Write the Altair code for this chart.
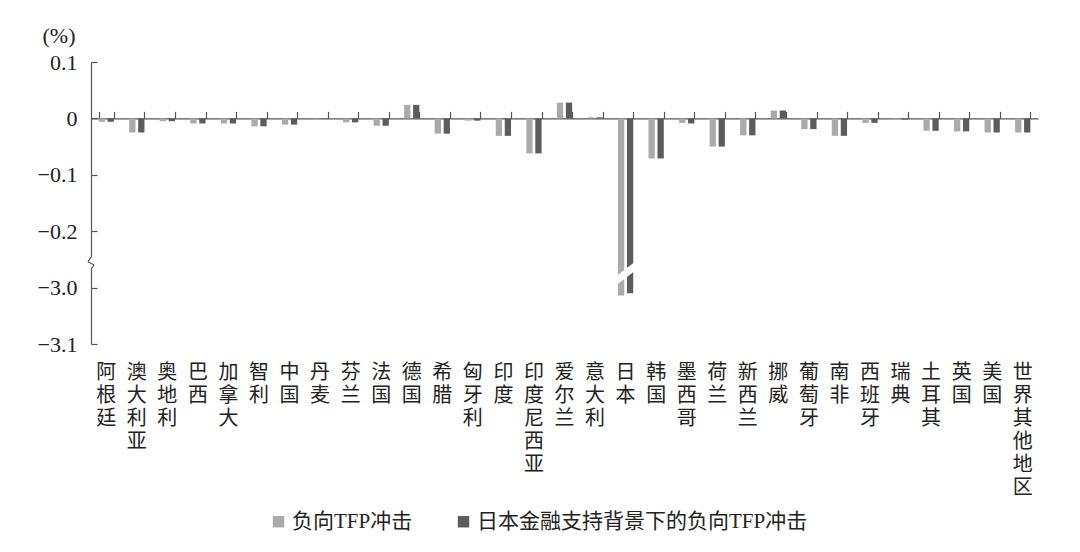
import altair as alt
import pandas as pd

# ---------------- data ----------------
countries = ["阿根廷", "澳大利亚", "奥地利", "巴西", "加拿大", "智利", "中国", "丹麦", "芬兰", "法国",
             "德国", "希腊", "匈牙利", "印度", "印度尼西亚", "爱尔兰", "意大利", "日本", "韩国", "墨西哥",
             "荷兰", "新西兰", "挪威", "葡萄牙", "南非", "西班牙", "瑞典", "土耳其", "英国", "美国",
             "世界其他地区"]
series_names = ["负向TFP冲击", "日本金融支持背景下的负向TFP冲击"]
tfp_shock = [-0.006, -0.025, -0.005, -0.009, -0.009, -0.014, -0.011, -0.001, -0.007, -0.013,
             0.024, -0.027, -0.004, -0.031, -0.062, 0.028, 0.002, -3.014, -0.071, -0.008,
             -0.050, -0.030, 0.014, -0.019, -0.031, -0.008, -0.002, -0.022, -0.023, -0.025,
             -0.025]
tfp_shock_jp = [-0.006, -0.025, -0.005, -0.009, -0.009, -0.014, -0.011, -0.001, -0.007, -0.013,
                0.024, -0.027, -0.004, -0.031, -0.062, 0.028, 0.002, -3.010, -0.071, -0.009,
                -0.050, -0.030, 0.014, -0.019, -0.031, -0.008, -0.002, -0.022, -0.023, -0.025,
                -0.025]
y_tick_values = [0.1, 0.0, -0.1, -0.2, -3.0, -3.1]

# broken axis: values below the break are shifted up by this amount
BREAK_SHIFT = 2.7
BREAK_LIMIT = -1.0


def to_axis(v):
    return v + BREAK_SHIFT if v < BREAK_LIMIT else v


rows = []
for i, c in enumerate(countries):
    for s, vals in zip(series_names, [tfp_shock, tfp_shock_jp]):
        rows.append({"country": c, "series": s, "value": vals[i], "t": to_axis(vals[i])})
df = pd.DataFrame(rows)

yticks_t = [round(to_axis(v), 3) for v in y_tick_values]

# white diagonal cut across the Japan bars (break marker)
cut_df = pd.DataFrame({"country": ["日本"], "t": [-0.275]})
CUT_SHAPE = "M-1,0.40 L1,-1.15 L1,-0.40 L-1,1.15 Z"

# break marker on the y axis
brk_y1 = [-0.246, -0.246, -0.254, -0.260]
brk_y2 = [-0.268, -0.254, -0.260, -0.268]
brk_x1 = [0, 0, -3, 3]
brk_x2 = [0, -3, 3, 0]
brk_col = ["white", "#555555", "#555555", "#555555"]
brk_w = [4, 1.2, 1.2, 1.2]

# ---------------- layout ----------------
W, H = 947, 282
ydom = [-0.4, 0.1]
zero_off = H * ydom[1] / (ydom[1] - ydom[0])

LATIN = "Liberation Serif, Noto Sans CJK SC"
CJK = "Noto Sans CJK SC"
AX = "#555555"
TXT = "#222222"

xscale = alt.Scale(domain=countries, paddingInner=0.5, paddingOuter=0.25)
yscale = alt.Scale(domain=ydom, nice=False, zero=False)
xoscale = alt.Scale(domain=series_names, paddingInner=0.3)

y_label_expr = ("datum.value == 0 ? '0' : (datum.value < -0.25 ? format(datum.value - "
                + str(BREAK_SHIFT) + ", '.1f') : format(datum.value, '.1f'))")

bars = alt.Chart(df).mark_bar().encode(
    x=alt.X("country:N", sort=countries, scale=xscale,
            axis=alt.Axis(orient="bottom", domain=False, ticks=False, grid=False, title=None,
                          labelExpr="split(datum.label, '')", labelAngle=0,
                          labelAlign="center", labelBaseline="top", labelPadding=18,
                          labelFont=CJK, labelFontSize=20, labelLineHeight=23,
                          labelColor=TXT, labelOverlap=False, labelBound=False)),
    xOffset=alt.XOffset("series:N", sort=series_names, scale=xoscale),
    y=alt.Y("t:Q", scale=yscale,
            axis=alt.Axis(orient="left", values=yticks_t, labelExpr=y_label_expr,
                          domain=False, ticks=False, grid=False, labelPadding=14,
                          labelFont="Liberation Serif", labelFontSize=22, labelColor=TXT,
                          title="(%)", titleAngle=0, titleX=-49, titleY=-20,
                          titleAlign="left", titleBaseline="alphabetic",
                          titleFont="Liberation Serif", titleFontSize=22,
                          titleFontWeight="normal", titleColor=TXT)),
    color=alt.Color("series:N", sort=series_names,
                    scale=alt.Scale(domain=series_names, range=["#aaaaaa", "#5c5c5c"]),
                    legend=alt.Legend(orient="none", legendX=177, legendY=449,
                                      direction="horizontal", title=None,
                                      symbolType="square", symbolSize=130,
                                      symbolStrokeWidth=0, labelFont=LATIN,
                                      labelFontSize=21, labelColor=TXT,
                                      columnPadding=40, labelOffset=3,
                                      labelLimit=700)),
)

axes_layer = alt.Chart(df).mark_bar(opacity=0).encode(
    x=alt.X("country:N", sort=countries, scale=xscale,
            axis=alt.Axis(orient="top", offset=-zero_off, labels=False, domain=True,
                          ticks=True, tickBand="extent", tickSize=7, grid=False,
                          title=None, domainColor=AX, tickColor=AX,
                          domainWidth=1.2, tickWidth=1.2)),
    y=alt.Y("t:Q", scale=yscale,
            axis=alt.Axis(orient="right", offset=-W, labels=False, values=yticks_t,
                          tickSize=6, domain=True, grid=False, title=None,
                          domainColor=AX, tickColor=AX, domainWidth=1.2, tickWidth=1.2)),
)

cut = alt.Chart(cut_df).mark_point(shape=CUT_SHAPE, filled=True, color="white",
                                   opacity=1, size=576, strokeWidth=0).encode(
    x=alt.X("country:N", sort=countries, scale=xscale, axis=None),
    y=alt.Y("t:Q", scale=yscale, axis=None),
)

brk_df = pd.DataFrame({"y1": brk_y1, "y2": brk_y2, "x1": brk_x1, "x2": brk_x2,
                       "col": brk_col, "w": brk_w, "k": list(range(len(brk_y1)))})
brk_layers = []
for _, r in brk_df.iterrows():
    brk_layers.append(
        alt.Chart(brk_df[brk_df.k == r.k]).mark_rule(color=r.col, strokeWidth=float(r.w)).encode(
            x=alt.value(float(r.x1)), x2=alt.value(float(r.x2)),
            y=alt.Y("y1:Q", scale=yscale, axis=None), y2="y2:Q")
    )

chart = alt.layer(bars, axes_layer, cut, *brk_layers).resolve_axis(
    x="independent", y="independent"
).properties(
    width=W, height=H, autosize="none",
    padding={"left": 83, "top": 54, "right": 34, "bottom": 200},
).configure_view(stroke=None).configure_axis(zindex=0)

chart.save("out.html", embed_options={"renderer": "svg", "actions": False})
